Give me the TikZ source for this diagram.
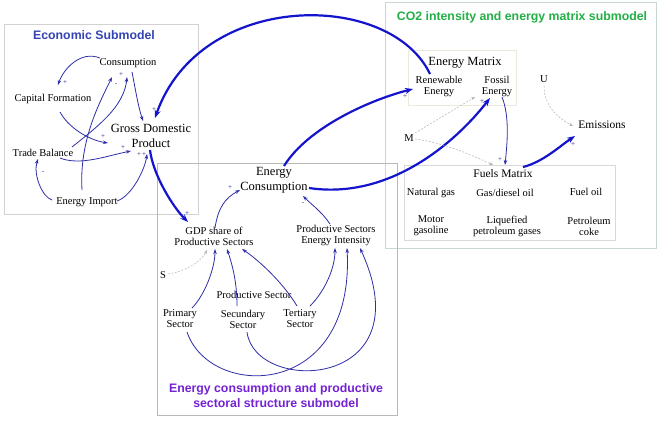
\documentclass[tikz,border=0pt]{standalone}
\usepackage{fontspec}
\setmainfont{Liberation Serif}
\setsansfont{Liberation Sans}
\usetikzlibrary{arrows.meta}
\definecolor{thinblue}{HTML}{2E2EA8}
\definecolor{thickblue}{HTML}{1414CC}
\definecolor{econcol}{HTML}{3444B4}
\definecolor{cocol}{HTML}{22B046}
\definecolor{encol}{HTML}{7422D4}
\begin{document}
\begin{tikzpicture}[x=1pt,y=-1pt,
  sm/.style={inner sep=1pt,align=center,font=\rmfamily\fontsize{10.5}{11}\selectfont},
  lg/.style={inner sep=1pt,align=center,font=\rmfamily\fontsize{12.5}{14.5}\selectfont},
  ttl/.style={inner sep=1pt,align=center,font=\sffamily\bfseries\fontsize{12.3}{15}\selectfont},
  sgn/.style={inner sep=0pt,font=\rmfamily\fontsize{7}{7}\selectfont,text=thinblue!70!black},
  thin/.style={draw=thinblue,line width=0.8pt,-{Stealth[length=5pt,width=3.5pt]}},
  thick/.style={draw=thickblue,line width=2.2pt,-{Stealth[length=8pt,width=6pt]}},
  dsh/.style={draw=gray!60,line width=0.5pt,dash pattern=on 2pt off 1.5pt,-{Stealth[length=4pt,width=3pt]}}]
\useasboundingbox (0,0) rectangle (658,426);
\fill[white] (0,0) rectangle (658,426);
% boxes
\draw[gray!35,line width=0.8pt] (4,24) rectangle (198,214);
\draw[cocol!25!gray!35,line width=0.8pt] (385,2) rectangle (656,248);
\draw[yellow!25!gray!25,line width=0.6pt] (408,50) rectangle (516,105);
\draw[gray!30,line width=0.6pt] (404,165) rectangle (615,240);
\draw[gray!55,line width=0.8pt] (157,163) rectangle (397,415);
% titles
\node[ttl,text=econcol] (econtitle) at (94,35) {Economic Submodel};
\node[ttl,text=cocol] (cotitle) at (522,17) {CO2 intensity and energy matrix submodel};
\node[ttl,text=encol] (entitle) at (276,396) {Energy consumption and productive\\sectoral structure submodel};
% economic nodes
\node[sm] (cons) at (128,63) {Consumption};
\node[sm] (capf) at (53,99) {Capital Formation};
\node[lg] (gdp) at (151,136) {Gross Domestic\\Product};
\node[sm] (trade) at (43,153) {Trade Balance};
\node[sm] (eimp) at (87,202) {Energy Import};
% energy nodes
\node[lg] (ecns) at (274,180) {Energy\\Consumption};
\node[sm] (gdpsh) at (214,236) {GDP share of\\Productive Sectors};
\node[sm] (psei) at (336,235) {Productive Sectors\\Energy Intensity};
\node[sm] (S) at (163,275) {S};
\node[sm] (prodsec) at (254,295) {Productive Sector};
\node[sm] (prim) at (180,319) {Primary\\Sector};
\node[sm] (secu) at (243,319) {Secundary\\Sector};
\node[sm] (tert) at (300,319) {Tertiary\\Sector};
% co2 nodes
\node[lg] (emat) at (465,63) {Energy Matrix};
\node[sm] (ren) at (439,86) {Renewable\\Energy};
\node[sm] (foss) at (497,86) {Fossil\\Energy};
\node[sm] (U) at (544,79) {U};
\node[lg,font=\rmfamily\fontsize{11.5}{13}\selectfont] (emis) at (602,125) {Emissions};
\node[sm] (M) at (409,138) {M};
\node[lg,font=\rmfamily\fontsize{11.5}{13}\selectfont] (fuels) at (503,174) {Fuels Matrix};
\node[sm] (ng) at (431,193) {Natural gas};
\node[sm] (gd) at (505,193) {Gas/diesel oil};
\node[sm] (fo) at (586,192) {Fuel oil};
\node[sm] (mg) at (431,226) {Motor\\gasoline};
\node[sm] (lpg) at (507,226) {Liquefied\\petroleum gases};
\node[sm] (pc) at (589,226) {Petroleum\\coke};
% economic connectors
\draw[thin] ([shift={(-28,-5)}]cons.center) .. controls +(-20,-8) and +(5,-15) .. ([shift={(5,-14)}]capf.center);
\draw[thin] ([shift={(7,13)}]capf.center) .. controls +(8,15) and +(-20,-3) .. ([shift={(-43,7)}]gdp.center);
\draw[thin] ([shift={(-5,-12)}]eimp.center) .. controls +(-3,-50) and +(-12,25) .. ([shift={(-16,14)}]cons.center);
\draw[thin] ([shift={(29,-6)}]trade.center) .. controls +(25,-20) and +(-3,30) .. ([shift={(-1,14)}]cons.center);
\draw[thin] ([shift={(4,9)}]cons.center) .. controls +(3,15) and +(-5,-15) .. ([shift={(-8,-15)}]gdp.center);
\draw[thin] ([shift={(17,5)}]trade.center) .. controls +(20,8) and +(-25,5) .. ([shift={(-20,15)}]gdp.center);
\draw[thin] ([shift={(-35,-2)}]eimp.center) .. controls +(-10,-3) and +(-5,15) .. ([shift={(-5,6)}]trade.center);
\draw[thin] ([shift={(30,-1)}]eimp.center) .. controls +(15,-5) and +(-2,15) .. ([shift={(-4,18)}]gdp.center);
% big links
\draw[thick] ([shift={(-9,-12)}]ren.center) .. controls +(-40,-84) and +(45,-128) .. ([shift={(4,-18)}]gdp.center);
\draw[thick] ([shift={(-1,14)}]gdp.center) .. controls +(3,25) and +(-15,-15) .. ([shift={(-26,-14)}]gdpsh.center);
\draw[thick] ([shift={(10,-14)}]ecns.center) .. controls +(25,-40) and +(-40,10) .. ([shift={(-26,3)}]ren.center);
\draw[thick] ([shift={(35,8)}]ecns.center) .. controls +(80,12) and +(-35,45) .. ([shift={(-7,12)}]foss.center);
\draw[thick] ([shift={(20,-7)}]fuels.center) .. controls +(20,-5) and +(-15,10) .. ([shift={(-27,11)}]emis.center);
% energy connectors
\draw[thin] ([shift={(1,-8)}]gdpsh.center) .. controls +(3,-20) and +(-15,8) .. ([shift={(-34,10)}]ecns.center);
\draw[thin] ([shift={(-6,-11)}]psei.center) .. controls +(-8,-12) and +(8,8) .. ([shift={(29,16)}]ecns.center);
\draw[dsh] ([shift={(5,-1)}]S.center) .. controls +(20,-3) and +(-5,10) .. ([shift={(-7,14)}]gdpsh.center);
\draw[thin] ([shift={(12,-11)}]prim.center) .. controls +(12,-12) and +(0,20) .. ([shift={(1,13)}]gdpsh.center);
\draw[thin] ([shift={(-6,-13)}]secu.center) .. controls +(0,-25) and +(5,15) .. ([shift={(13,13)}]gdpsh.center);
\draw[thin] ([shift={(-3,-13)}]tert.center) .. controls +(-15,-25) and +(15,10) .. ([shift={(28,13)}]gdpsh.center);
\draw[thin] ([shift={(10,-13)}]tert.center) .. controls +(15,-15) and +(0,20) .. ([shift={(-1,13)}]psei.center);
\draw[thin] ([shift={(7,13)}]prim.center) .. controls +(23,68) and +(8,152) .. ([shift={(11,13)}]psei.center);
\draw[thin] ([shift={(4,13)}]secu.center) .. controls +(8,63) and +(65,142) .. ([shift={(24,13)}]psei.center);
% co2 connectors
\draw[thin] ([shift={(5,11)}]foss.center) .. controls +(8,20) and +(2,-20) .. ([shift={(2,-9)}]fuels.center);
\draw[dsh] ([shift={(6,-5)}]M.center) -- ([shift={(-22,11)}]foss.center);
\draw[dsh] ([shift={(6,1)}]M.center) .. controls +(25,3) and +(-25,-12) .. ([shift={(-10,-9)}]fuels.center);
\draw[dsh] ([shift={(0,7)}]U.center) .. controls +(0,20) and +(-15,-8) .. ([shift={(-29,1)}]emis.center);
% polarity signs
\node[sgn] (p1) at (65,83) {+};
\node[sgn] (p2) at (103,137) {+};
\node[sgn] (p3) at (121,75) {+};
\node[sgn] (p4) at (116,85) {-};
\node[sgn] (p5) at (154,110) {+};
\node[sgn] (p6) at (123,148) {+};
\node[sgn] (p7) at (139,155) {+};
\node[sgn] (p8) at (144,155) {+};
\node[sgn] (p9) at (43,173) {-};
\node[sgn] (p10) at (187,214) {+};
\node[sgn] (p11) at (230,188) {+};
\node[sgn] (p12) at (303,204) {-};
\node[sgn] (p13) at (405,97) {+};
\node[sgn] (p14) at (482,102) {+};
\node[sgn] (p15) at (500,160) {+};
\node[sgn] (p16) at (573,145) {+};
\end{tikzpicture}
\end{document}
